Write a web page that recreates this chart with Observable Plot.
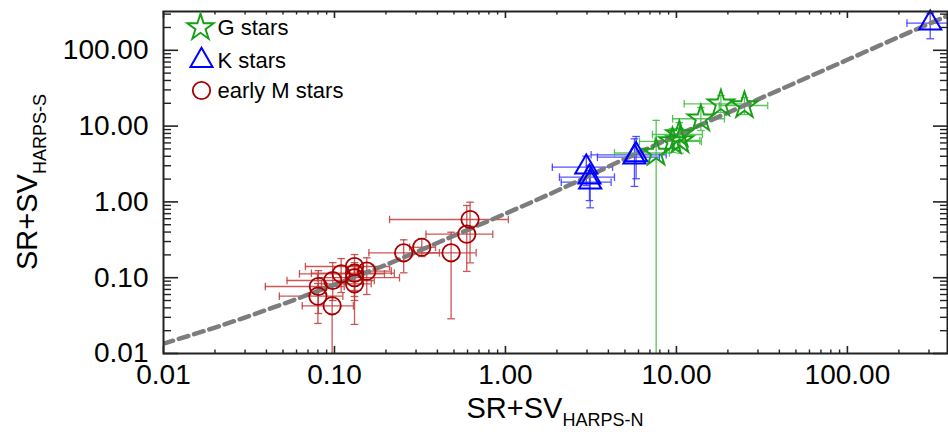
<!DOCTYPE html>
<html>
<head>
<meta charset="utf-8">
<script src="https://cdn.jsdelivr.net/npm/d3@7"></script>
<script src="https://cdn.jsdelivr.net/npm/@observablehq/plot@0.6"></script>
<style>
  html, body { margin: 0; padding: 0; background: #fff; }
  #chart svg { display: block; }
</style>
</head>
<body>
<div id="chart"></div>
<script>
// ---- G stars: S-index proxies, HARPS-N (x) vs HARPS-S (y), with error ranges
const gX    = [7.61, 9.48, 10.4, 10.5, 13.9, 18.2, 25.0];
const gY    = [4.42, 6.27, 7.75, 6.46, 12.5, 19.7, 18.7];
const gXlo  = [4.34, 6.08, 7.24, 7.5, 9.5, 11.1, 17.8];
const gXhi  = [9.10, 14.0, 14.2, 13.7, 19.1, 26.7, 34.2];
const gYlo  = [0.0001, 4.49, 5.22, 4.4, 8.75, 15.1, 14.2];
const gYhi  = [11.9, 9.29, 11.1, 9.3, 17.6, 25.3, 23.8];

// ---- K stars
const kX    = [2.97, 3.10, 3.13, 5.81, 5.68, 305];
const kY    = [2.87, 2.12, 1.82, 4.18, 3.89, 228];
const kXlo  = [1.88, 2.07, 2.12, 3.17, 3.45, 223];
const kXhi  = [4.23, 4.34, 4.15, 8.71, 7.96, 600];
const kYlo  = [1.64, 1.04, 0.836, 2.02, 1.60, 142];
const kYhi  = [4.01, 3.02, 2.59, 7.29, 6.79, 308];

// ---- early M stars
const mX    = [0.0805, 0.080, 0.0977, 0.1094, 0.131, 0.131, 0.131, 0.131, 0.1545, 0.0969, 0.254, 0.324, 0.481, 0.594, 0.621];
const mY    = [0.0766, 0.057, 0.0919, 0.1125, 0.1406, 0.1147, 0.100, 0.0831, 0.122, 0.0426, 0.213, 0.252, 0.213, 0.375, 0.586];
const mXlo  = [0.0394, 0.0476, 0.0528, 0.0624, 0.0676, 0.0733, 0.0795, 0.0839, 0.136, 0.0648, 0.159, 0.275, 0.286, 0.343, 0.21];
const mXhi  = [0.114, 0.112, 0.171, 0.196, 0.21, 0.224, 0.240, 0.164, 0.215, 0.129, 0.411, 0.390, 0.674, 0.843, 1.04];
const mYlo  = [0.0337, 0.0249, 0.05, 0.0638, 0.0679, 0.05, 0.0565, 0.0242, 0.060, 0.0001, 0.116, 0.19, 0.0287, 0.121, 0.157];
const mYhi  = [0.124, 0.0838, 0.158, 0.179, 0.202, 0.158, 0.149, 0.149, 0.183, 0.055, 0.316, 0.329, 0.398, 0.897, 0.991];

// ---- calibration relation (dashed curve)
const relX = [0.01, 0.02, 0.05, 0.1, 0.2, 0.5, 1, 2, 5, 10, 20, 50, 100, 200, 385];
const relY = [0.0135, 0.022, 0.045, 0.081, 0.148, 0.358, 0.70, 1.40, 3.69, 7.5, 15, 37.5, 75, 150, 285];

// ---- axes
const xDomain = [0.01, 385];
const yDomain = [0.01, 325];
const xMajorTicks = [0.01, 0.1, 1, 10, 100];
const yMajorTicks = [0.01, 0.1, 1, 10, 100];
const tickFormat = d3.format(".2f");

// ---- legend entries
const legendLabels = ["G stars", "K stars", "early M stars"];

const colors = {
  G: {mark: "#15a015", bar: "#3cbc3c"},
  K: {mark: "#0000ff", bar: "#3535ff"},
  M: {mark: "#a80000", bar: "#c23a3a"}
};
const symbolSize = {G: 8.3, K: 8.2, M: 8.7};

function rows(group, xs, ys, xlo, xhi, ylo, yhi) {
  return xs.map((x, i) => ({group, x, y: ys[i], xlo: xlo[i], xhi: xhi[i], ylo: ylo[i], yhi: yhi[i]}));
}
const gRows = rows("G", gX, gY, gXlo, gXhi, gYlo, gYhi);
const kRows = rows("K", kX, kY, kXlo, kXhi, kYlo, kYhi);
const mRows = rows("M", mX, mY, mXlo, mXhi, mYlo, mYhi);
const relRows = relX.map((x, i) => ({x, y: relY[i]}));

// minor ticks at 2..9 of every decade inside the domain
function minorTicks([lo, hi]) {
  const out = [];
  for (let e = Math.floor(Math.log10(lo)); e <= Math.ceil(Math.log10(hi)); e++) {
    for (let m = 2; m <= 9; m++) {
      const v = m * Math.pow(10, e);
      if (v > lo && v < hi) out.push(v);
    }
  }
  return out;
}
const xMinorTicks = minorTicks(xDomain);
const yMinorTicks = minorTicks(yDomain);

// layout
const W = 948, H = 432;
const M = {top: 11, right: 1, bottom: 79, left: 163};
const innerW = W - M.left - M.right;
const innerH = H - M.top - M.bottom;

// short line symbols used for error-bar caps
const capV = {draw(ctx, size) { const r = Math.sqrt(size / Math.PI); ctx.moveTo(0, -r); ctx.lineTo(0, r); }};
const capH = {draw(ctx, size) { const r = Math.sqrt(size / Math.PI); ctx.moveTo(-r, 0); ctx.lineTo(r, 0); }};

function errorBars(data, c) {
  const common = {stroke: c.bar, strokeWidth: 1.3, strokeOpacity: 0.85, clip: true};
  return [
    Plot.ruleY(data, {y: "y", x1: "xlo", x2: "xhi", ...common}),
    Plot.ruleX(data, {x: "x", y1: "ylo", y2: "yhi", ...common}),
    Plot.dot(data, {x: "xlo", y: "y", symbol: capV, r: 3.8, fill: "none", ...common}),
    Plot.dot(data, {x: "xhi", y: "y", symbol: capV, r: 3.8, fill: "none", ...common}),
    Plot.dot(data, {x: "x", y: "ylo", symbol: capH, r: 3.8, fill: "none", ...common}),
    Plot.dot(data, {x: "x", y: "yhi", symbol: capH, r: 3.8, fill: "none", ...common})
  ];
}

const axisColor = "#222";
const plot = Plot.plot({
  width: W,
  height: H,
  marginTop: M.top,
  marginRight: M.right,
  marginBottom: M.bottom,
  marginLeft: M.left,
  style: {fontFamily: "'Liberation Sans', Arial, Helvetica, sans-serif", background: "#fff", color: "#000"},
  x: {type: "log", domain: xDomain, axis: null},
  y: {type: "log", domain: yDomain, axis: null},
  marks: [
    ...errorBars(mRows, colors.M),
    ...errorBars(kRows, colors.K),
    ...errorBars(gRows, colors.G),
    Plot.line(relRows, {x: "x", y: "y", stroke: "#7d7d7d", strokeWidth: 4.5, strokeDasharray: "10,6", curve: "monotone-x", clip: true}),
    Plot.dot(mRows, {x: "x", y: "y", symbol: "circle", r: symbolSize.M, stroke: colors.M.mark, strokeWidth: 1.8, fill: "none"}),
    Plot.dot(kRows, {x: "x", y: "y", symbol: "triangle", r: symbolSize.K, stroke: colors.K.mark, strokeWidth: 2, fill: "none"}),
    Plot.dot(gRows, {x: "x", y: "y", symbol: "star", r: symbolSize.G, stroke: colors.G.mark, strokeWidth: 1.9, fill: "none"}),

    // inward ticks on all four sides
    Plot.ruleX(xMajorTicks, {stroke: axisColor, strokeWidth: 1.6, insetTop: innerH - 7}),
    Plot.ruleX(xMinorTicks, {stroke: axisColor, strokeWidth: 1.4, insetTop: innerH - 3.5}),
    Plot.ruleX(xMajorTicks, {stroke: axisColor, strokeWidth: 1.6, insetBottom: innerH - 7}),
    Plot.ruleX(xMinorTicks, {stroke: axisColor, strokeWidth: 1.4, insetBottom: innerH - 3.5}),
    Plot.ruleY(yMajorTicks, {stroke: axisColor, strokeWidth: 1.6, insetRight: innerW - 15}),
    Plot.ruleY(yMinorTicks, {stroke: axisColor, strokeWidth: 1.4, insetRight: innerW - 8}),
    Plot.ruleY(yMajorTicks, {stroke: axisColor, strokeWidth: 1.6, insetLeft: innerW - 14}),
    Plot.ruleY(yMinorTicks, {stroke: axisColor, strokeWidth: 1.4, insetLeft: innerW - 7}),
    Plot.frame({stroke: axisColor, strokeWidth: 2}),

    // tick labels
    Plot.text(xMajorTicks, {x: d => d, frameAnchor: "bottom", dy: 30, text: d => tickFormat(d), fontSize: 28, fill: "#000"}),
    Plot.text(yMajorTicks, {y: d => d, frameAnchor: "left", dx: -15, textAnchor: "end", text: d => tickFormat(d), fontSize: 28, fill: "#000"}),

    // legend
    Plot.dot([0], {frameAnchor: "top-left", dx: 37, dy: 16, symbol: "star", r: symbolSize.G, stroke: colors.G.mark, strokeWidth: 1.9, fill: "none"}),
    Plot.dot([0], {frameAnchor: "top-left", dx: 38, dy: 49, symbol: "triangle", r: symbolSize.K, stroke: colors.K.mark, strokeWidth: 2, fill: "none"}),
    Plot.dot([0], {frameAnchor: "top-left", dx: 38, dy: 79, symbol: "circle", r: symbolSize.M, stroke: colors.M.mark, strokeWidth: 1.8, fill: "none"}),
    Plot.text([legendLabels[0]], {frameAnchor: "top-left", lineAnchor: "middle", dx: 54, dy: 16, textAnchor: "start", fontSize: 22, fill: "#000"}),
    Plot.text([legendLabels[1]], {frameAnchor: "top-left", lineAnchor: "middle", dx: 54, dy: 49, textAnchor: "start", fontSize: 22, fill: "#000"}),
    Plot.text([legendLabels[2]], {frameAnchor: "top-left", lineAnchor: "middle", dx: 54, dy: 79, textAnchor: "start", fontSize: 22, fill: "#000"})
  ]
});

// axis titles with subscripts
const svg = d3.select(plot);
const xt = svg.append("text")
  .attr("x", M.left + innerW / 2)
  .attr("y", H - 14)
  .attr("text-anchor", "middle")
  .attr("font-size", 29)
  .attr("fill", "#000");
xt.append("tspan").text("SR+SV");
xt.append("tspan").attr("font-size", 18).attr("dy", 8).text("HARPS-N");

const yt = svg.append("text")
  .attr("transform", `translate(37,${M.top + innerH / 2}) rotate(-90)`)
  .attr("text-anchor", "middle")
  .attr("font-size", 29)
  .attr("fill", "#000");
yt.append("tspan").text("SR+SV");
yt.append("tspan").attr("font-size", 18).attr("dy", 9).text("HARPS-S");

document.getElementById("chart").appendChild(plot);
</script>
</body>
</html>
